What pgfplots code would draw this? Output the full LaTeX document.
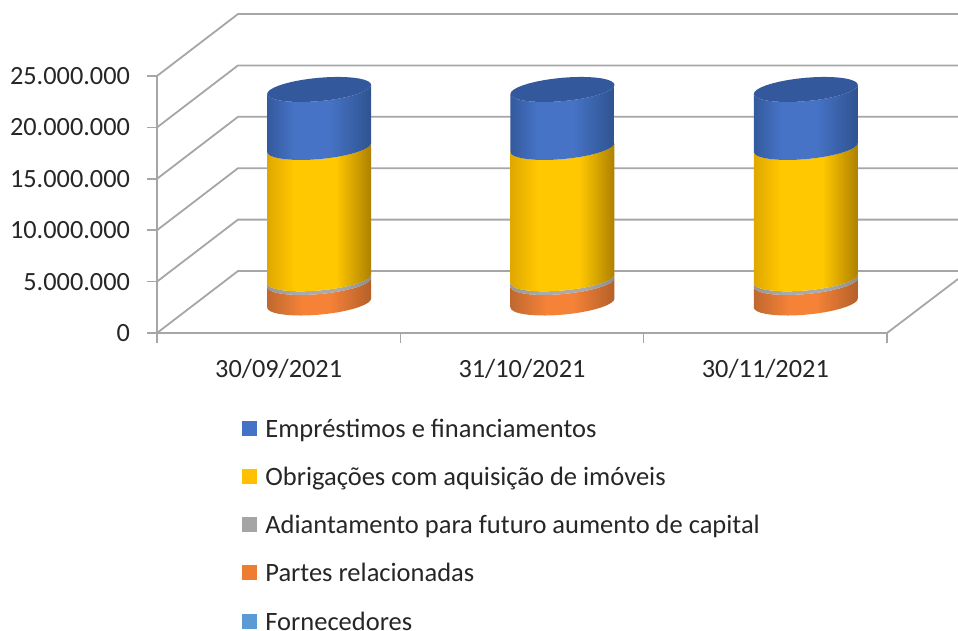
\documentclass[border=0pt]{standalone}
\usepackage{fontspec}
\setmainfont{Carlito}
\usepackage{pgfplots}
\usepackage{pgfplotstable}
\pgfplotsset{compat=1.18}
\definecolor{gridc}{HTML}{A6A6A6}
\definecolor{capb}{HTML}{33589B}
\definecolor{txt}{HTML}{262626}
\definecolor{bL}{HTML}{345A9E}\definecolor{bM}{HTML}{4673C6}\definecolor{bR}{HTML}{2F5390}
\definecolor{yL}{HTML}{E0A800}\definecolor{yM}{HTML}{FFC800}\definecolor{yR}{HTML}{AE8000}
\definecolor{gL}{HTML}{969696}\definecolor{gM}{HTML}{AAAAAA}\definecolor{gR}{HTML}{8C8C8C}
\definecolor{oL}{HTML}{C0682F}\definecolor{oM}{HTML}{F58237}\definecolor{oR}{HTML}{B5602A}
\definecolor{lgB}{HTML}{4472C4}\definecolor{lgY}{HTML}{FFC000}\definecolor{lgG}{HTML}{A5A5A5}
\definecolor{lgO}{HTML}{ED7D31}\definecolor{lgL}{HTML}{5B9BD5}
\pgfdeclarehorizontalshading{blueS}{100bp}{color(0bp)=(bL); color(25bp)=(bL); color(38bp)=(bM); color(55bp)=(bM); color(75bp)=(bR); color(100bp)=(bR)}
\pgfdeclarehorizontalshading{yellowS}{100bp}{color(0bp)=(yL); color(25bp)=(yL); color(38bp)=(yM); color(58bp)=(yM); color(75bp)=(yR); color(100bp)=(yR)}
\pgfdeclarehorizontalshading{grayS}{100bp}{color(0bp)=(gL); color(25bp)=(gL); color(40bp)=(gM); color(60bp)=(gM); color(75bp)=(gR); color(100bp)=(gR)}
\pgfdeclarehorizontalshading{orangeS}{100bp}{color(0bp)=(oL); color(25bp)=(oL); color(42bp)=(oM); color(55bp)=(oM); color(75bp)=(oR); color(100bp)=(oR)}
% outline of a cylinder section: lower half of the ellipse at the base (s=0), then at the top (s=1)
\pgfplotstableread{
u v s
-1 0 0
-.9848 .1736 0
-.9397 .3420 0
-.8660 .5 0
-.7660 .6428 0
-.6428 .7660 0
-.5 .8660 0
-.3420 .9397 0
-.1736 .9848 0
0 1 0
.1736 .9848 0
.3420 .9397 0
.5 .8660 0
.6428 .7660 0
.7660 .6428 0
.8660 .5 0
.9397 .3420 0
.9848 .1736 0
1 0 0
1 0 1
.9848 .1736 1
.9397 .3420 1
.8660 .5 1
.7660 .6428 1
.6428 .7660 1
.5 .8660 1
.3420 .9397 1
.1736 .9848 1
0 1 1
-.1736 .9848 1
-.3420 .9397 1
-.5 .8660 1
-.6428 .7660 1
-.7660 .6428 1
-.8660 .5 1
-.9397 .3420 1
-.9848 .1736 1
-1 0 1
}\unitseg
\pgfplotstableread{
u v
-1 0
-.9848 .1736
-.9397 .3420
-.8660 .5
-.7660 .6428
-.6428 .7660
-.5 .8660
-.3420 .9397
-.1736 .9848
0 1
.1736 .9848
.3420 .9397
.5 .8660
.6428 .7660
.7660 .6428
.8660 .5
.9397 .3420
.9848 .1736
1 0
.9848 -.1736
.9397 -.3420
.8660 -.5
.7660 -.6428
.6428 -.7660
.5 -.8660
.3420 -.9397
.1736 -.9848
0 -1
-.1736 -.9848
-.3420 -.9397
-.5 -.8660
-.6428 -.7660
-.7660 -.6428
-.8660 -.5
-.9397 -.3420
-.9848 -.1736
}\unitcap
% #1 x centre, #2 cumulative value below, #3 cumulative value above, #4 shading
\newcommand\seg[4]{\addplot[forget plot,draw=none,shade,shading=#4] table[
  x expr={#1+0.1664+0.2137*\thisrow{u}},
  y expr={2920000+#2+(#3-#2)*\thisrow{s}+437742*\thisrow{u}-1138132*\thisrow{v}}] \unitseg;}
\newcommand\topcap[2]{\addplot[forget plot,draw=none,fill=capb] table[
  x expr={#1+0.1664+0.2137*\thisrow{u}},
  y expr={2920000+#2+437742*\thisrow{u}-1138132*\thisrow{v}}] \unitcap;}
\newcommand\wall[2]{\addplot[forget plot,gridc,line width=1.8pt] coordinates {(0,#1) (0.3329,#2) (3.2918,#2)};}
\begin{document}
\begin{tikzpicture}
\path[use as bounding box] (-157pt,-298pt) rectangle (801pt,333pt);
\begin{axis}[
  scale only axis,width=730pt,height=257pt,
  xmin=0,xmax=3,ymin=0,ymax=25000000,
  clip=false,
  axis x line*=bottom,axis y line*=left,
  axis line style={gridc,line width=2pt,-},
  tick style={gridc,line width=1.6pt},
  tick align=outside,major tick length=9.5pt,
  xtick={0,1,2,3},
  xticklabels={30/09/2021,31/10/2021,30/11/2021},
  x tick label as interval,
  ytick={0,5000000,10000000,15000000,20000000,25000000},
  scaled y ticks=false,
  /pgf/number format/.cd,fixed,precision=0,1000 sep={.},assume math mode=true,
  /pgfplots/.cd,
  tick label style={font=\fontsize{26.3}{32}\selectfont,text=txt},
  yticklabel style={xshift=-14pt},
  xticklabel style={yshift=-13pt},
  legend image code/.code={\fill[#1,draw=none] (0pt,-7.5pt) rectangle (15pt,7.5pt);\path (23pt,0pt);},
  legend cell align=left,
  legend style={draw=none,fill=none,inner sep=0pt,at={(0.1164,-0.3346)},anchor=north west,
    font=\fontsize{26.5}{32}\selectfont\color{txt},
    row sep=30.25pt,
    nodes={text height=18pt,text depth=0pt,inner sep=0pt}},
]
\addlegendimage{fill=lgB}
\addlegendentry{Empréstimos e financiamentos}
\addlegendimage{fill=lgY}
\addlegendentry{Obrigações com aquisição de imóveis}
\addlegendimage{fill=lgG}
\addlegendentry{Adiantamento para futuro aumento de capital}
\addlegendimage{fill=lgO}
\addlegendentry{Partes relacionadas}
\addlegendimage{fill=lgL}
\addlegendentry{Fornecedores}
\wall{0}{6030000}\wall{5000000}{11030000}\wall{10000000}{16030000}\wall{15000000}{21030000}\wall{20000000}{26030000}\wall{25000000}{31030000}
\addplot[forget plot,gridc,line width=1.8pt] coordinates {(3,0) (3.2918,5250000)};
% 30/09/2021: partes 2000000, adiantamento 350000, obrigacoes 12780000, emprestimos 5640000
\seg{0.5}{0}{2000000}{orangeS}
\seg{0.5}{2000000}{2350000}{grayS}
\seg{0.5}{2350000}{15130000}{yellowS}
\seg{0.5}{15130000}{20770000}{blueS}
\topcap{0.5}{20770000}
% 31/10/2021
\seg{1.5}{0}{2000000}{orangeS}
\seg{1.5}{2000000}{2350000}{grayS}
\seg{1.5}{2350000}{15130000}{yellowS}
\seg{1.5}{15130000}{20770000}{blueS}
\topcap{1.5}{20770000}
% 30/11/2021
\seg{2.5}{0}{2000000}{orangeS}
\seg{2.5}{2000000}{2350000}{grayS}
\seg{2.5}{2350000}{15130000}{yellowS}
\seg{2.5}{15130000}{20770000}{blueS}
\topcap{2.5}{20770000}
\end{axis}
\end{tikzpicture}
\end{document}
